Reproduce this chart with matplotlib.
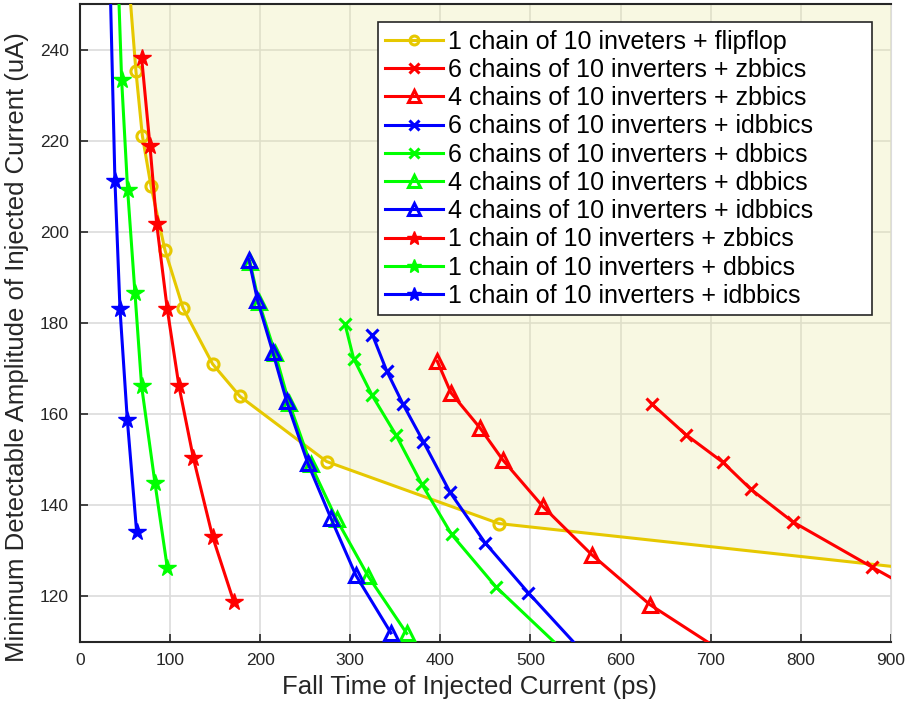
import matplotlib
matplotlib.use("Agg")
import matplotlib.pyplot as plt

plt.rcParams["font.family"] = ["Liberation Sans", "DejaVu Sans"]

# fall time (ps) / minimum detectable amplitude (uA)
# points outside the visible window only continue the drawn lines
ff_x = [52.2, 62.1, 69.2, 78.8, 94.3, 114.3, 147.2, 177.6, 273.8, 465.0, 1100.0]
ff_y = [260.0, 235.2, 221.1, 210.0, 196.0, 183.3, 171.0, 163.9, 149.6, 136.0, 122.3]

zb6_x = [634.4, 672.5, 713.2, 744.7, 790.9, 878.6, 960.0]
zb6_y = [162.3, 155.5, 149.5, 143.5, 136.4, 126.5, 117.5]

zb4_x = [396.6, 411.7, 443.9, 469.1, 513.5, 567.8, 632.6, 720.0]
zb4_y = [171.6, 164.7, 157.0, 150.0, 139.8, 129.2, 118.2, 107.0]

idb6_x = [324.6, 340.4, 358.5, 381.0, 410.6, 449.5, 497.6, 565.0]
idb6_y = [177.4, 169.5, 162.2, 154.0, 142.9, 131.8, 120.8, 106.3]

db6_x = [294.1, 303.7, 324.3, 350.5, 379.2, 412.5, 461.7, 545.0]
db6_y = [179.8, 172.2, 164.1, 155.5, 144.7, 133.6, 122.1, 106.5]

db4_x = [188.5, 198.5, 216.5, 232.0, 256.0, 284.8, 320.0, 362.6]
db4_y = [193.5, 184.6, 173.4, 162.5, 149.0, 136.9, 124.4, 111.9]

idb4_x = [187.5, 197.0, 214.0, 229.4, 252.7, 278.2, 306.3, 345.1]
idb4_y = [193.9, 185.0, 173.6, 162.8, 149.3, 137.3, 124.6, 112.0]

zb1_x = [68.4, 77.7, 85.1, 96.9, 109.9, 125.8, 147.2, 170.9]
zb1_y = [238.2, 218.8, 201.8, 183.0, 166.1, 150.4, 133.1, 118.7]

db1_x = [41.6, 46.2, 52.9, 61.0, 68.4, 83.2, 96.9]
db1_y = [260.0, 233.4, 209.1, 186.6, 166.1, 144.9, 126.3]

idb1_x = [32.8, 38.8, 44.4, 52.5, 62.9]
idb1_y = [260.0, 211.1, 183.0, 158.8, 134.1]

YEL = "#e6c800"
RED = "#ff0000"
GRN = "#00ff00"
BLU = "#0000ff"

series = [
    (ff_x, ff_y, YEL, "o", "1 chain of 10 inveters + flipflop"),
    (zb6_x, zb6_y, RED, "x", "6 chains of 10 inverters + zbbics"),
    (zb4_x, zb4_y, RED, "^", "4 chains of 10 inverters + zbbics"),
    (idb6_x, idb6_y, BLU, "x", "6 chains of 10 inverters + idbbics"),
    (db6_x, db6_y, GRN, "x", "6 chains of 10 inverters + dbbics"),
    (db4_x, db4_y, GRN, "^", "4 chains of 10 inverters + dbbics"),
    (idb4_x, idb4_y, BLU, "^", "4 chains of 10 inverters + idbbics"),
    (zb1_x, zb1_y, RED, "*", "1 chain of 10 inverters + zbbics"),
    (db1_x, db1_y, GRN, "*", "1 chain of 10 inverters + dbbics"),
    (idb1_x, idb1_y, BLU, "*", "1 chain of 10 inverters + idbbics"),
]

fig = plt.figure(figsize=(9.06, 7.07), dpi=100)
ax = fig.add_axes([0.0883, 0.0919, 0.895, 0.9024])

# shaded region above the flipflop curve
ax.fill_between(ff_x, ff_y, 300, color="#e8e8a0", alpha=0.3, lw=0, zorder=1)

for x, y, c, m, lab in series:
    if m == "*":
        kw = dict(markersize=13, markerfacecolor=c, markeredgecolor=c, markeredgewidth=1)
    elif m == "x":
        kw = dict(markersize=9, markeredgewidth=2.2, markeredgecolor=c)
    elif m == "o":
        kw = dict(markersize=8, markerfacecolor="none", markeredgecolor=c, markeredgewidth=2.2)
    else:
        kw = dict(markersize=10, markerfacecolor="none", markeredgecolor=c, markeredgewidth=2.2)
    ax.plot(x, y, color=c, marker=m, lw=2.2, label=lab, zorder=3, **kw)

ax.set_xlim(0, 900)
ax.set_ylim(110, 250)
ax.set_xticks(range(0, 901, 100))
ax.set_yticks(range(120, 241, 20))
ax.grid(True, color="#dcdcdc", lw=1.2, zorder=0)
ax.set_axisbelow(True)
ax.tick_params(direction="in", length=6, width=1.2, labelsize=12.5,
               colors="#262626", pad=8)
for side in ("left", "bottom", "top"):
    ax.spines[side].set_color("#262626")
    ax.spines[side].set_linewidth(1.5)
ax.spines["right"].set_color("#dcdcdc")

ax.set_xlabel("Fall Time of Injected Current (ps)", fontsize=18.5, color="#262626")
ax.set_ylabel("Minimum Detectable Amplitude of Injected Current (uA)", fontsize=18.5,
              color="#262626")
ax.xaxis.set_label_coords(0.48, -0.052)
ax.yaxis.set_label_coords(-0.063, 0.462)

leg = ax.legend(loc="upper left", bbox_to_anchor=(0.3675, 0.5157, 0.609, 0.4561),
                mode="expand", fontsize=18, labelspacing=0.17, handlelength=2.3,
                handletextpad=0.2, borderpad=0.3, borderaxespad=0, fancybox=False,
                framealpha=1, edgecolor="#262626")
leg.get_frame().set_linewidth(1.2)
for h in leg.legend_handles:
    h.set_markersize(h.get_markersize() * 0.8)

fig.savefig("out.png", dpi=100)
